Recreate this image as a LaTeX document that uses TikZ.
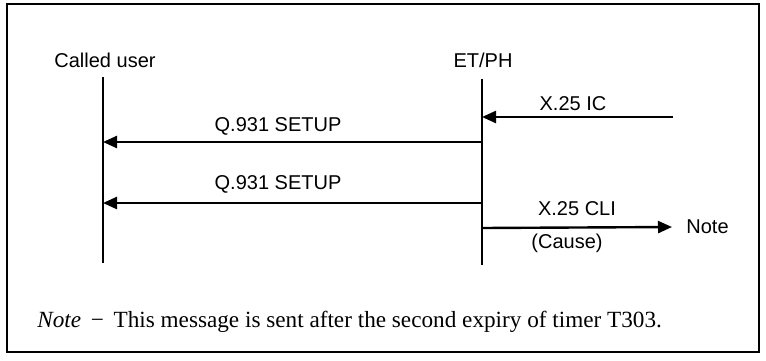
\documentclass[tikz,border=0pt]{standalone}
\usepackage{fontspec}
\setmainfont{Liberation Serif}
\setsansfont{Liberation Sans}
\usetikzlibrary{arrows.meta}
\begin{document}
\begin{tikzpicture}[x=0.5pt,y=-0.5pt,
  lbl/.style={font=\sffamily\fontsize{10}{12}\selectfont, inner sep=0pt},
  life/.style={line width=1pt},
  msg/.style={line width=1.2pt, -{Triangle[length=7pt,width=6pt]}},
  frm/.style={line width=1pt}]
\useasboundingbox (0,0) rectangle (766,360);
\draw[frm] (7,4) rectangle (759,352);
% entities
\node[lbl] (cu) at (105,60) {Called user};
\node[lbl] (et) at (483,60) {ET/PH};
\coordinate (cuT) at (103,77);
\coordinate (cuB) at (103,263);
\coordinate (etT) at (482,79);
\coordinate (etB) at (482,265);
\draw[life] (cuT) -- (cuB);
\draw[life] (etT) -- (etB);
% X.25 IC
\coordinate (icS) at (673,117);
\coordinate (icE) at (482,117);
\draw[msg] (icS) -- (icE);
\node[lbl] (icL) at (573,104) {X.25 IC};
% SETUP 1
\coordinate (s1S) at (482,142);
\coordinate (s1E) at (103,142);
\draw[msg] (s1S) -- (s1E);
\node[lbl] (s1L) at (278,126) {Q.931 SETUP};
% SETUP 2
\coordinate (s2S) at (482,203);
\coordinate (s2E) at (103,203);
\draw[msg] (s2S) -- (s2E);
\node[lbl] (s2L) at (278,184) {Q.931 SETUP};
% X.25 CLI
\coordinate (cliS) at (482,228);
\node[lbl, anchor=west, inner xsep=7pt] (note) at (672,227) {Note};
\draw[msg] (cliS) -- (note.west);
\node[lbl] (cliL) at (577,209) {X.25 CLI};
\node[lbl] (cause) at (567,243) {(Cause)};
% footnote
\node[anchor=west, inner sep=0pt, font=\fontsize{11.6}{14}\selectfont] (fn) at (37,322)
  {\textit{Note} \,−\, This message is sent after the second expiry of timer T303.};
\end{tikzpicture}
\end{document}
